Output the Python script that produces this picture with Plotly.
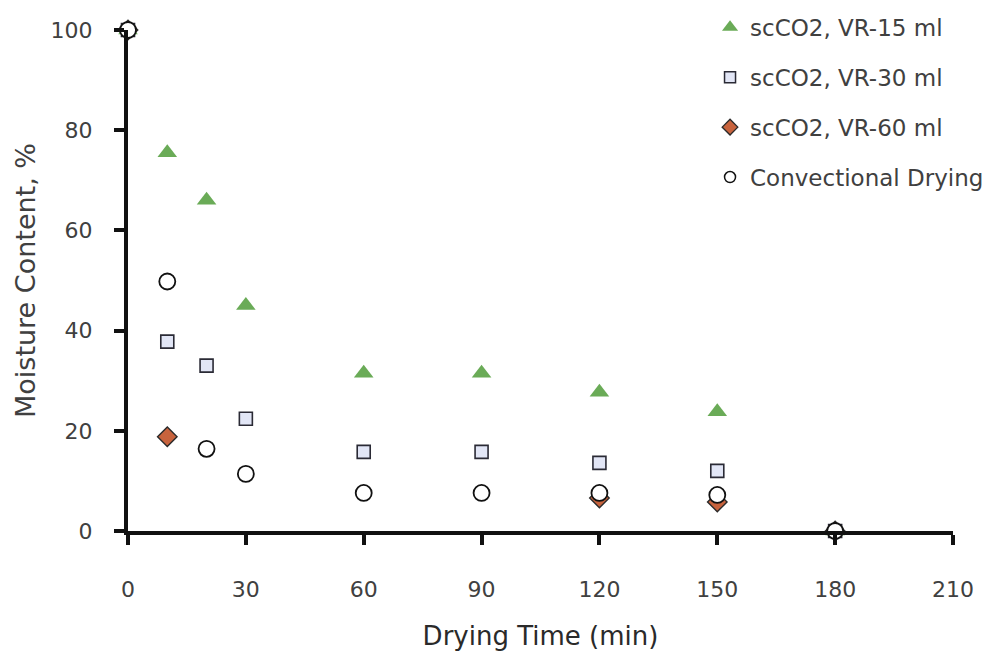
import plotly.graph_objects as go

# Drying time (min) and moisture content (%) for each drying method
time_min = [0, 10, 20, 30, 60, 90, 120, 150, 180]
vr15_moisture = [100, 75.5, 66, 45, 31.5, 31.5, 27.7, 23.8, 0]
vr30_moisture = [100, 37.8, 33, 22.4, 15.8, 15.8, 13.6, 12, 0]
vr60_time = [0, 10, 120, 150, 180]
vr60_moisture = [100, 18.8, 6.6, 5.8, 0]
conv_moisture = [100, 49.8, 16.4, 11.4, 7.6, 7.6, 7.6, 7.2, 0]

x_ticks = [0, 30, 60, 90, 120, 150, 180, 210]
y_ticks = [0, 20, 40, 60, 80, 100]

series_names = ["scCO2, VR-15 ml", "scCO2, VR-30 ml",
                "scCO2, VR-60 ml", "Convectional Drying"]

FONT = "DejaVu Sans"
TEXT = "#404040"

# marker styles: (symbol, plot size, legend size, fill, outline colour, outline width)
styles = [
    ("triangle-up", 17, 14, "#6aab57", "#6aab57", 0),
    ("square", 13, 11, "#e2e6f6", "#2a2a35", 1.6),
    ("diamond", 15, 12, "#c8633d", "#2a2a2a", 1.4),
    ("circle", 16, 11, "white", "#111111", 1.8),
]
series_x = [time_min, time_min, vr60_time, time_min]
series_y = [vr15_moisture, vr30_moisture, vr60_moisture, conv_moisture]

fig = go.Figure()

for name, xs, ys, (sym, size, _, fill, edge, ew) in zip(series_names, series_x, series_y, styles):
    fig.add_trace(go.Scatter(
        x=xs, y=ys, mode="markers", name=name, showlegend=False,
        marker=dict(symbol=sym, size=size, color=fill,
                    line=dict(width=ew, color=edge)),
        cliponaxis=False,
    ))

# legend entries with smaller symbols
for i, (name, (sym, _, lsize, fill, edge, ew)) in enumerate(zip(series_names, styles)):
    fig.add_trace(go.Scatter(
        x=[None], y=[None], mode="markers", name=name,
        legendgroup=f"g{i}",
        marker=dict(symbol=sym, size=lsize, color=fill,
                    line=dict(width=min(ew, 1.5), color=edge)),
    ))

fig.update_layout(
    width=1001, height=653,
    margin=dict(l=128, r=48, t=30, b=122, autoexpand=False),
    paper_bgcolor="white", plot_bgcolor="white",
    font=dict(family=FONT, size=22, color=TEXT),
    showlegend=True,
    legend=dict(
        x=0.7055, y=0.991, xanchor="left", yanchor="top",
        xref="paper", yref="container",
        bgcolor="rgba(0,0,0,0)", borderwidth=0,
        font=dict(family=FONT, size=23, color=TEXT),
        traceorder="grouped", tracegroupgap=17,
        itemsizing="trace",
    ),
    xaxis=dict(
        range=[0, 210], tickvals=x_ticks, ticktext=[str(v) for v in x_ticks],
        showgrid=False, zeroline=False,
        showline=True, linecolor="#111111", linewidth=4,
        ticks="outside", ticklen=10, tickwidth=4, tickcolor="#111111",
        ticklabelstandoff=26,
        tickfont=dict(family=FONT, size=22, color=TEXT),
        title=dict(text="Drying Time (min)", standoff=26,
                   font=dict(family=FONT, size=26, color="#2a2a2a")),
    ),
    yaxis=dict(
        range=[0, 100], tickvals=y_ticks, ticktext=[str(v) for v in y_ticks],
        showgrid=False, zeroline=False,
        showline=True, linecolor="#111111", linewidth=4,
        ticks="outside", ticklen=10, tickwidth=4, tickcolor="#111111",
        ticklabelstandoff=17,
        tickfont=dict(family=FONT, size=22, color=TEXT),
        title=dict(text="Moisture Content, %", standoff=8,
                   font=dict(family=FONT, size=27, color=TEXT)),
    ),
)

fig.write_html("out.html")
